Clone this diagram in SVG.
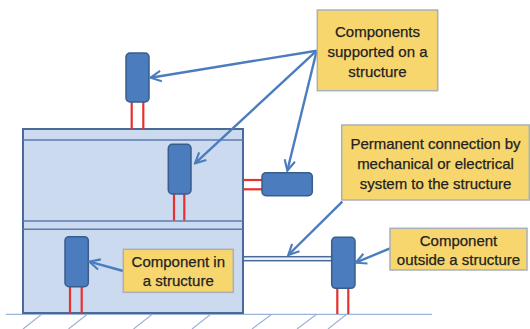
<svg xmlns="http://www.w3.org/2000/svg" width="530" height="329" viewBox="0 0 530 329">
  <style>
    .ground { stroke: #9db3d6; stroke-width: 1.2; fill: none; }
    .building { fill: #cbdaee; stroke: #4a6a97; stroke-width: 2; }
    .floorline { stroke: #5b7db0; stroke-width: 1.5; fill: none; }
    .comp { fill: #4a7cbe; stroke: #385d8a; stroke-width: 1.5; }
    .leg { stroke: #e8312f; stroke-width: 2.2; fill: none; }
    .callout { fill: #f8d66e; stroke: #a9b0ba; stroke-width: 1.5; }
    .label { font-family: "Liberation Sans", Arial, sans-serif; font-size: 15px; fill: #222; stroke: #222; stroke-width: 0.25; text-anchor: middle; }
    .arrow { stroke: #4a7cbe; stroke-width: 2.4; fill: none; marker-end: url(#head); }
    .bar { fill: #eef3fa; stroke: #4a6a97; stroke-width: 1.5; }
  </style>
  <defs>
    <marker id="head" viewBox="0 0 10 10" refX="9" refY="5" markerWidth="5.5" markerHeight="5.5" orient="auto" markerUnits="strokeWidth">
      <path d="M1,1 L9,5 L1,9" fill="none" stroke="#4a7cbe" stroke-width="1.6" stroke-linejoin="miter"/>
    </marker>
  </defs>

  <!-- ground line with hatching -->
  <g id="ground">
    <line class="ground" x1="6" y1="314.3" x2="432" y2="314.3"/>
    <path class="ground" d="M41.7,314.3 L23,329 M87.3,314.3 L68.5,329 M152.3,314.3 L133.5,329 M210.7,314.3 L192,329 M271.7,314.3 L252,329 M316.7,314.3 L297,329 M346.7,314.3 L328,329"/>
  </g>

  <!-- the structure -->
  <g id="structure">
    <rect class="building" x="23" y="129" width="220" height="184"/>
    <line class="floorline" x1="23" y1="140" x2="243" y2="140"/>
    <line class="floorline" x1="23" y1="221" x2="243" y2="221"/>
    <line class="floorline" x1="23" y1="229.3" x2="243" y2="229.3"/>
  </g>

  <!-- component on the roof -->
  <g id="comp-roof">
    <line class="leg" x1="131.7" y1="102" x2="131.7" y2="129"/>
    <line class="leg" x1="143.3" y1="102" x2="143.3" y2="129"/>
    <rect class="comp" x="126" y="53" width="23" height="49" rx="4"/>
  </g>

  <!-- component on the upper floor -->
  <g id="comp-upper">
    <line class="leg" x1="174" y1="194" x2="174" y2="220.5"/>
    <line class="leg" x1="184.3" y1="194" x2="184.3" y2="220.5"/>
    <rect class="comp" x="168.3" y="144.3" width="22.7" height="49.7" rx="4"/>
  </g>

  <!-- component fixed to the wall -->
  <g id="comp-wall">
    <line class="leg" x1="243" y1="180" x2="262" y2="180"/>
    <line class="leg" x1="243" y1="189.3" x2="262" y2="189.3"/>
    <rect class="comp" x="262" y="172.7" width="50.3" height="23" rx="4"/>
  </g>

  <!-- component on the ground floor -->
  <g id="comp-ground">
    <line class="leg" x1="70" y1="286.7" x2="70" y2="313"/>
    <line class="leg" x1="81.7" y1="286.7" x2="81.7" y2="313"/>
    <rect class="comp" x="65" y="236.7" width="23.3" height="50" rx="4"/>
  </g>

  <!-- link from the structure to the outside component -->
  <g id="link">
    <rect class="bar" x="243.3" y="256.7" width="88.4" height="4"/>
  </g>

  <!-- component standing outside -->
  <g id="comp-outside">
    <line class="leg" x1="337.3" y1="288.3" x2="337.3" y2="314"/>
    <line class="leg" x1="348.3" y1="288.3" x2="348.3" y2="314"/>
    <rect class="comp" x="331.7" y="237.3" width="23.3" height="51" rx="4"/>
  </g>

  <!-- pointer arrows -->
  <g id="connectors">
    <line class="arrow" x1="316.7" y1="50.7" x2="150.5" y2="77.7"/>
    <line class="arrow" x1="316.7" y1="50.7" x2="195" y2="163.3"/>
    <line class="arrow" x1="316.7" y1="50.7" x2="287.3" y2="170.7"/>
    <line class="arrow" x1="342.3" y1="201.7" x2="288.3" y2="255"/>
    <line class="arrow" x1="123.3" y1="271" x2="89.3" y2="261.7"/>
    <line class="arrow" x1="390" y1="248.3" x2="355.7" y2="262.7"/>
  </g>

  <!-- callouts -->
  <g id="callout-supported">
    <rect class="callout" x="317.3" y="10" width="120.4" height="80.7"/>
    <text class="label" x="377.5" y="37.3">Components</text>
    <text class="label" x="377.5" y="57">supported on a</text>
    <text class="label" x="377.5" y="76.5">structure</text>
  </g>

  <g id="callout-permanent">
    <rect class="callout" x="341.7" y="125" width="187.6" height="75"/>
    <text class="label" x="435.5" y="149">Permanent connection by</text>
    <text class="label" x="435.5" y="169">mechanical or electrical</text>
    <text class="label" x="435.5" y="189">system to the structure</text>
  </g>

  <g id="callout-in">
    <rect class="callout" x="123.3" y="249.3" width="110" height="43"/>
    <text class="label" x="178.3" y="266.7">Component in</text>
    <text class="label" x="178.3" y="285.7">a structure</text>
  </g>

  <g id="callout-outside">
    <rect class="callout" x="390" y="228.3" width="137" height="41.7"/>
    <text class="label" x="458.5" y="246">Component</text>
    <text class="label" x="458.5" y="265">outside a structure</text>
  </g>
</svg>
